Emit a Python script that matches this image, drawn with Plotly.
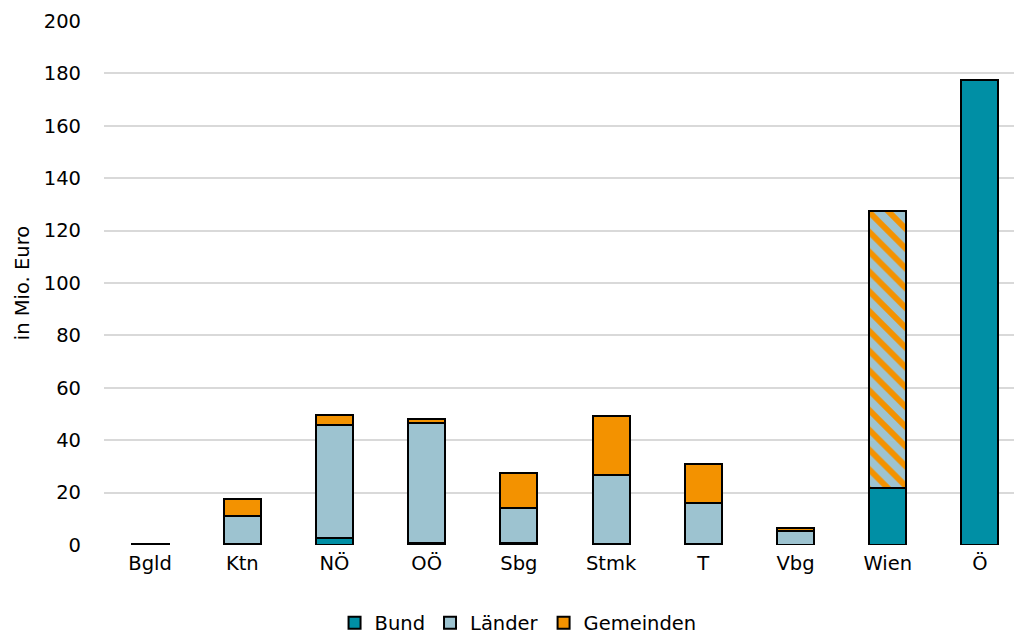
import plotly.graph_objects as go

# Bundesländer and the Austria-wide total
categories = ["Bgld", "Ktn", "NÖ", "OÖ", "Sbg", "Stmk", "T", "Vbg", "Wien", "Ö"]

# Spending by level of government, in Mio. Euro
bund = [0.0, 0.3, 2.6, 0.9, 0.6, 0.2, 0.2, 0.0, 21.6, 177.3]
laender = [0.3, 10.9, 43.3, 45.5, 13.4, 26.7, 16.0, 5.2, 106.0, 0.0]
gemeinden = [0.0, 6.2, 3.7, 1.7, 13.4, 22.5, 14.7, 1.3, 0.0, 0.0]

# Wien is Land and Gemeinde at once: its Länder segment is drawn hatched
laender_hatched = [c == "Wien" for c in categories]

c_bund = "#008FA5"
c_laender = "#9DC3D0"
c_gemeinden = "#F39200"
outline = dict(color="#000000", width=2)

fig = go.Figure()
fig.add_bar(
    name="Bund", x=categories, y=bund,
    marker=dict(color=c_bund, line=outline),
)
fig.add_bar(
    name="Länder", x=categories, y=laender,
    marker=dict(
        color=c_laender, line=outline,
        pattern=dict(
            shape=["\\" if h else "" for h in laender_hatched],
            fgcolor=c_gemeinden, bgcolor=c_laender,
            size=14, solidity=0.42, fillmode="replace",
        ),
    ),
)
fig.add_bar(
    name="Gemeinden", x=categories, y=gemeinden,
    marker=dict(color=c_gemeinden, line=outline),
)

font = "DejaVu Sans, Arial, sans-serif"
fs = 19.5
fig.update_layout(
    barmode="stack",
    bargap=0.6,
    width=1014, height=634,
    margin=dict(l=104, r=0, t=21, b=89, autoexpand=False),
    paper_bgcolor="white", plot_bgcolor="white",
    font=dict(family=font, size=fs, color="#000000"),
    showlegend=True,
    legend=dict(
        orientation="h", x=0.455, xanchor="center", y=-0.112, yanchor="top",
        font=dict(size=fs), itemwidth=30, traceorder="normal",
    ),
    xaxis=dict(
        range=[-0.5, 9.37], showgrid=False, zeroline=False,
        showline=False, ticks="", tickfont=dict(size=fs),
        ticklabelstandoff=4,
    ),
    yaxis=dict(
        range=[0, 200], dtick=20, showgrid=True, gridcolor="#D9D9D9",
        gridwidth=1.5, zeroline=False, showline=False, ticks="",
        tickfont=dict(size=fs), ticklabelstandoff=22,
        title=dict(text="in Mio. Euro", font=dict(size=fs), standoff=8),
    ),
)

fig.write_html("out.html")
